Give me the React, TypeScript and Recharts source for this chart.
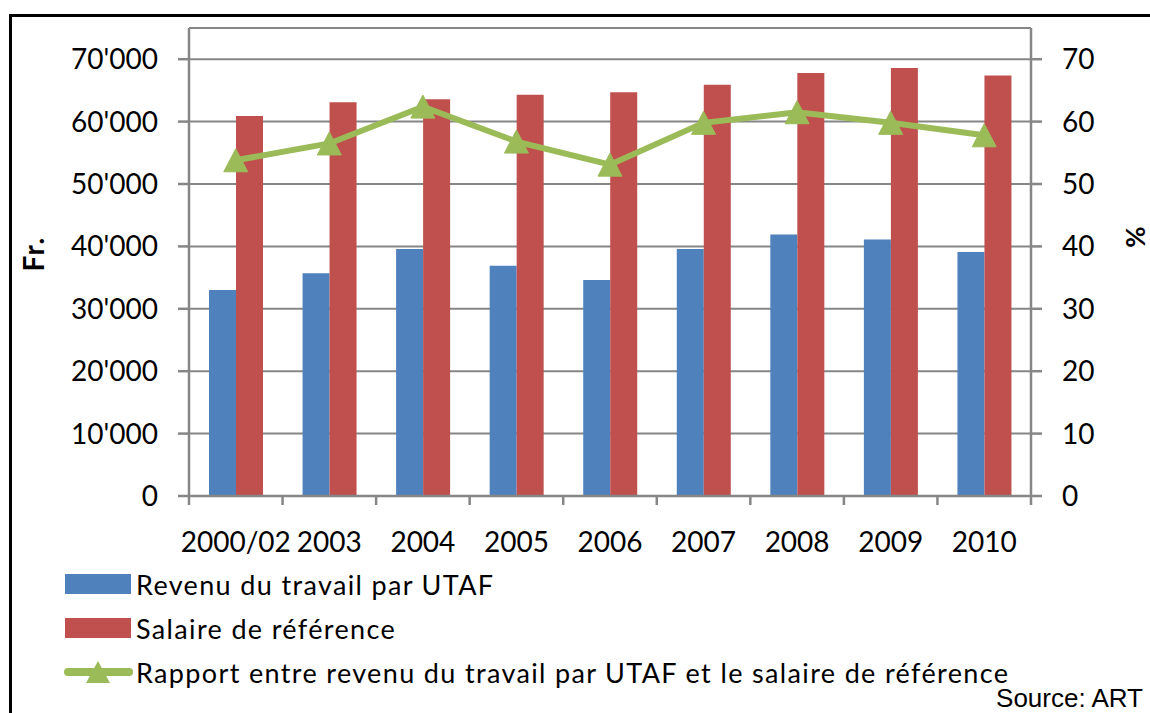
import React from 'react';
import { ComposedChart, Bar, Line, XAxis, YAxis, CartesianGrid, Legend, Label } from 'recharts';

const categories = ['2000/02', '2003', '2004', '2005', '2006', '2007', '2008', '2009', '2010'];
const revenu = [33000, 35700, 39600, 36900, 34600, 39600, 41900, 41100, 39100];
const salaire = [60900, 63100, 63600, 64300, 64700, 65900, 67800, 68600, 67400];
const rapport = [53.8, 56.5, 62.4, 56.8, 53.1, 59.8, 61.5, 59.8, 57.8];
const leftTicks = [0, 10000, 20000, 30000, 40000, 50000, 60000, 70000];
const rightTicks = [0, 10, 20, 30, 40, 50, 60, 70];
const seriesNames = [
  'Revenu du travail par UTAF',
  'Salaire de référence',
  'Rapport entre revenu du travail par UTAF et le salaire de référence',
];

const data = categories.map((c, i) => ({
  cat: c,
  revenu: revenu[i],
  salaire: salaire[i],
  rapport: rapport[i],
}));

const W = 1150;
const H = 713;
const M_TOP = 28;
const M_BOTTOM = 157;
const XAXIS_H = 60;
const LEFT_W = 189;
const RIGHT_W = 119;
const PLOT_W = W - LEFT_W - RIGHT_W;
const PLOT_BOTTOM = H - M_BOTTOM - XAXIS_H;

const BLUE = '#4F81BD';
const RED = '#C0504D';
const GREEN = '#9BBB59';
const AXIS = '#868686';
const FONT = 'Lato, "Open Sans", sans-serif';

const fmt = (v: number) => String(v).replace(/\B(?=(\d{3})+(?!\d))/g, "'");

function XTick(props: any) {
  const { x, payload, index } = props;
  const band = PLOT_W / categories.length;
  const lines = [x - band / 2];
  if (index === categories.length - 1) lines.push(x + band / 2);
  return (
    <g>
      {lines.map((lx, i) => (
        <line key={i} x1={lx} x2={lx} y1={PLOT_BOTTOM} y2={PLOT_BOTTOM + 9} stroke={AXIS} strokeWidth={2.5} />
      ))}
      <text x={x} y={PLOT_BOTTOM + 56} textAnchor="middle" fontSize={28} fontFamily={FONT} fill="#000">
        {payload.value}
      </text>
    </g>
  );
}

function Triangle(props: any) {
  const { cx, cy } = props;
  if (cx == null || cy == null) return null;
  return (
    <polygon
      points={`${cx},${cy - 11.5} ${cx + 12},${cy + 11.5} ${cx - 12},${cy + 11.5}`}
      fill={GREEN}
      stroke={GREEN}
      strokeWidth={1}
    />
  );
}

function LegendContent() {
  const colors = [BLUE, RED, GREEN];
  return (
    <div style={{ fontFamily: FONT, fontSize: 27, color: '#000', letterSpacing: 1.35 }}>
      {seriesNames.map((n, i) => (
        <div key={i} style={{ display: 'flex', alignItems: 'center', height: 44, position: 'relative' }}>
          <div style={{ width: 136, position: 'relative', height: 44, flexShrink: 0 }}>
            {i < 2 ? (
              <div style={{ position: 'absolute', left: 65, top: 12, width: 66, height: 20, background: colors[i] }} />
            ) : (
              <svg style={{ position: 'absolute', left: 60, top: 8 }} width={76} height={28}>
                <line x1={8} x2={69} y1={14} y2={14} stroke={GREEN} strokeWidth={8} strokeLinecap="round" />
                <polygon points="38,3 50,25 26,25" fill={GREEN} />
              </svg>
            )}
          </div>
          <span style={{ whiteSpace: 'nowrap' }}>{n}</span>
        </div>
      ))}
    </div>
  );
}

export default function App() {
  return (
    <div style={{ position: 'absolute', left: 0, top: 0, width: W, height: H, overflow: 'hidden', background: '#fff' }}>
      <div
        style={{
          position: 'absolute',
          left: 9,
          top: 14,
          width: 1300,
          height: 900,
          border: '3px solid #000',
          boxSizing: 'border-box',
        }}
      />
      <div style={{ position: 'absolute', left: 0, top: 0 }}>
        <ComposedChart
          width={W}
          height={H}
          data={data}
          margin={{ top: M_TOP, right: 0, bottom: M_BOTTOM, left: 0 }}
          barGap={0}
          barSize={27}
        >
          <CartesianGrid yAxisId="left" vertical={false} stroke={AXIS} strokeWidth={2} />
          <XAxis
            dataKey="cat"
            height={XAXIS_H}
            tickLine={false}
            axisLine={{ stroke: AXIS, strokeWidth: 2.5 }}
            tick={<XTick />}
            interval={0}
          />
          <YAxis
            yAxisId="left"
            width={LEFT_W}
            domain={[0, 75000]}
            ticks={leftTicks}
            tickFormatter={fmt}
            tickSize={11}
            tickMargin={20}
            axisLine={{ stroke: AXIS, strokeWidth: 2.5 }}
            tickLine={{ stroke: AXIS, strokeWidth: 2.5 }}
            tick={{ fill: '#000', fontSize: 28, fontFamily: FONT }}
          >
            <Label
              content={() => (
                <text
                  x={44}
                  y={254}
                  transform="rotate(-90 44 254)"
                  textAnchor="middle"
                  fontSize={28}
                  fontWeight="bold"
                  fontFamily={FONT}
                  letterSpacing={1.5}
                  fill="#000"
                >
                  Fr.
                </text>
              )}
            />
          </YAxis>
          <YAxis
            yAxisId="right"
            orientation="right"
            width={RIGHT_W}
            domain={[0, 75]}
            ticks={rightTicks}
            tickSize={11}
            tickMargin={20}
            axisLine={{ stroke: AXIS, strokeWidth: 2.5 }}
            tickLine={{ stroke: AXIS, strokeWidth: 2.5 }}
            tick={{ fill: '#000', fontSize: 28, fontFamily: FONT }}
          >
            <Label
              content={() => (
                <text
                  x={1145}
                  y={237}
                  transform="rotate(-90 1145 237)"
                  textAnchor="middle"
                  fontSize={26}
                  fontWeight="bold"
                  fontFamily={FONT}
                  fill="#000"
                >
                  %
                </text>
              )}
            />
          </YAxis>
          <Bar yAxisId="left" dataKey="revenu" name={seriesNames[0]} fill={BLUE} isAnimationActive={false} />
          <Bar yAxisId="left" dataKey="salaire" name={seriesNames[1]} fill={RED} isAnimationActive={false} />
          <Line
            yAxisId="right"
            dataKey="rapport"
            name={seriesNames[2]}
            stroke={GREEN}
            strokeWidth={6}
            dot={<Triangle />}
            activeDot={false}
            isAnimationActive={false}
          />
          <Legend
            layout="vertical"
            align="center"
            verticalAlign="middle"
            wrapperStyle={{ left: 0, top: 562, width: W }}
            content={() => <LegendContent />}
          />
        </ComposedChart>
      </div>
      <div
        style={{
          position: 'absolute',
          right: 7,
          top: 683,
          fontFamily: '"Liberation Sans", Arial, sans-serif',
          fontSize: 26,
          color: '#000',
        }}
      >
        Source: ART
      </div>
    </div>
  );
}
